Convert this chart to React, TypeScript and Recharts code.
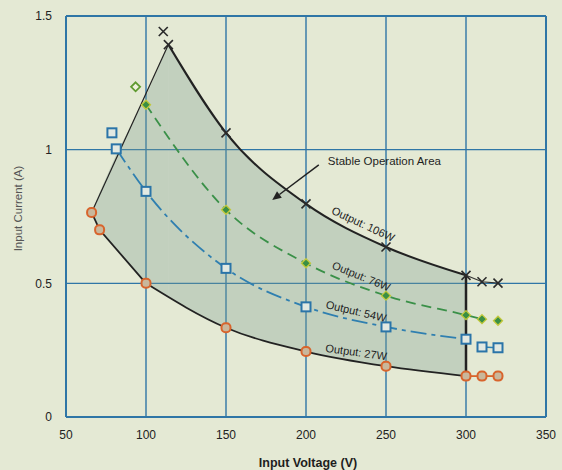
import React from 'react';
import {
  ComposedChart,
  Line,
  Area,
  Scatter,
  XAxis,
  YAxis,
  CartesianGrid,
  ReferenceLine,
  ReferenceDot,
} from 'recharts';

// ---------- data ----------
const xTicks = [50, 100, 150, 200, 250, 300, 350];
const yTicks = [0, 0.5, 1, 1.5];

// Output 106W (black, x markers)
const w106Line = [
  { x: 114, y: 1.393 },
  { x: 150, y: 1.063 },
  { x: 200, y: 0.797 },
  { x: 250, y: 0.636 },
  { x: 300, y: 0.53 },
];
const w106Tail = [
  { x: 300, y: 0.53 },
  { x: 310, y: 0.506 },
  { x: 320, y: 0.501 },
];
const w106Marks = [
  { x: 110.8, y: 1.442 },
  { x: 114, y: 1.393 },
  { x: 150, y: 1.063 },
  { x: 200, y: 0.797 },
  { x: 250, y: 0.636 },
  { x: 300, y: 0.53 },
  { x: 310, y: 0.506 },
  { x: 320, y: 0.501 },
];

// Output 76W (green, dashed, diamonds)
const w76Line = [
  { x: 100, y: 1.168 },
  { x: 150, y: 0.775 },
  { x: 200, y: 0.575 },
  { x: 250, y: 0.454 },
  { x: 300, y: 0.381 },
  { x: 310, y: 0.366 },
];
const w76Marks = [
  { x: 100, y: 1.168 },
  { x: 150, y: 0.775 },
  { x: 200, y: 0.575 },
  { x: 250, y: 0.454 },
  { x: 300, y: 0.381 },
  { x: 310, y: 0.366 },
  { x: 320, y: 0.36 },
];
const w76Loose = [{ x: 93.5, y: 1.235 }];

// Output 54W (blue, dash-dot, squares)
const w54Line = [
  { x: 81.4, y: 1.003 },
  { x: 100, y: 0.844 },
  { x: 150, y: 0.556 },
  { x: 200, y: 0.412 },
  { x: 250, y: 0.337 },
  { x: 300, y: 0.291 },
];
const w54Tail = [
  { x: 310, y: 0.262 },
  { x: 320, y: 0.259 },
];
const w54Marks = [
  { x: 78.7, y: 1.063 },
  { x: 81.4, y: 1.003 },
  { x: 100, y: 0.844 },
  { x: 150, y: 0.556 },
  { x: 200, y: 0.412 },
  { x: 250, y: 0.337 },
  { x: 300, y: 0.291 },
  { x: 310, y: 0.262 },
  { x: 320, y: 0.259 },
];

// Output 27W (black line, orange circles)
const w27Head = [
  { x: 66, y: 0.765 },
  { x: 71, y: 0.7 },
  { x: 100, y: 0.5 },
];
const w27Line = [
  { x: 100, y: 0.5 },
  { x: 150, y: 0.334 },
  { x: 200, y: 0.245 },
  { x: 250, y: 0.19 },
  { x: 300, y: 0.153 },
];
const w27Tail = [
  { x: 300, y: 0.153 },
  { x: 310, y: 0.153 },
  { x: 320, y: 0.153 },
];
const w27Marks = [
  { x: 66, y: 0.765 },
  { x: 71, y: 0.7 },
  { x: 100, y: 0.5 },
  { x: 150, y: 0.334 },
  { x: 200, y: 0.245 },
  { x: 250, y: 0.19 },
  { x: 300, y: 0.153 },
  { x: 310, y: 0.153 },
  { x: 320, y: 0.153 },
];

// Stable operation area boundaries
const leftEdge = [
  { x: 66, y: 0.765 },
  { x: 114, y: 1.393 },
];
const rightEdge = [
  { x: 300, y: 0.153 },
  { x: 300, y: 0.53 },
];
const areaLeft = [
  { x: 66, r: [0.765, 0.765] },
  { x: 71, r: [0.7, 0.84] },
  { x: 82, r: [0.624, 0.99] },
  { x: 100, r: [0.5, 1.2] },
  { x: 114, r: [0.448, 1.393] },
];
const areaRight = [
  { x: 114, r: [0.448, 1.393] },
  { x: 150, r: [0.334, 1.063] },
  { x: 200, r: [0.245, 0.797] },
  { x: 250, r: [0.19, 0.636] },
  { x: 300, r: [0.153, 0.53] },
];

// ---------- styles ----------
const FONT = '"Liberation Sans", Arial, sans-serif';
const GRID = '#2f76a6';

const XMark = (p: any) => {
  const { cx, cy } = p;
  const s = 4.5;
  return (
    <g stroke="#2a2a2a" strokeWidth={1.6}>
      <line x1={cx - s} y1={cy - s} x2={cx + s} y2={cy + s} />
      <line x1={cx - s} y1={cy + s} x2={cx + s} y2={cy - s} />
    </g>
  );
};
const DiamondMark = (p: any) => {
  const { cx, cy } = p;
  const s = 4.5;
  return (
    <polygon
      points={`${cx},${cy - s} ${cx + s},${cy} ${cx},${cy + s} ${cx - s},${cy}`}
      fill="#3a8f45"
      stroke="#c3c93a"
      strokeWidth={1.3}
    />
  );
};
const DiamondOpen = (p: any) => {
  const { cx, cy } = p;
  const s = 4.5;
  return (
    <polygon
      points={`${cx},${cy - s} ${cx + s},${cy} ${cx},${cy + s} ${cx - s},${cy}`}
      fill="#eef0dc"
      stroke="#5f9a30"
      strokeWidth={1.8}
    />
  );
};
const SquareMark = (p: any) => {
  const { cx, cy } = p;
  const s = 4.5;
  return (
    <rect
      x={cx - s}
      y={cy - s}
      width={2 * s}
      height={2 * s}
      fill="#e2e9e2"
      stroke="#2a74a8"
      strokeWidth={2}
    />
  );
};
const CircleMark = (p: any) => {
  const { cx, cy } = p;
  return (
    <rect
      x={cx - 4.5}
      y={cy - 4.5}
      width={9}
      height={9}
      rx={4}
      fill="#c9b79b"
      stroke="#d8642c"
      strokeWidth={2}
    />
  );
};

const rotLabel = (text: string, angle: number, size = 11) => (props: any) => {
  const vb = props.viewBox || {};
  const cx = (vb.x ?? 0) + (vb.width ?? 0) / 2;
  const cy = (vb.y ?? 0) + (vb.height ?? 0) / 2;
  return (
    <text
      x={cx}
      y={cy}
      transform={`rotate(${angle} ${cx} ${cy})`}
      textAnchor="middle"
      dominantBaseline="central"
      fontSize={size}
      fontFamily={FONT}
      fill="#1e1e1e"
    >
      {text}
    </text>
  );
};

const ArrowShape = (p: any) => {
  const { x1, y1, x2, y2 } = p;
  const ang = Math.atan2(y2 - y1, x2 - x1);
  const L = 9;
  const W = 4;
  const bx = x2 - L * Math.cos(ang);
  const by = y2 - L * Math.sin(ang);
  const px = -Math.sin(ang) * W;
  const py = Math.cos(ang) * W;
  return (
    <g>
      <line x1={x1} y1={y1} x2={bx} y2={by} stroke="#222" strokeWidth={1.5} />
      <polygon points={`${x2},${y2} ${bx + px},${by + py} ${bx - px},${by - py}`} fill="#222" />
    </g>
  );
};

const XLabel = (props: any) => {
  const vb = props.viewBox || {};
  const cx = (vb.x ?? 0) + (vb.width ?? 0) / 2;
  return (
    <text x={cx + 2} y={467} textAnchor="middle" fontSize={12.5} fontWeight="bold" fontFamily={FONT} fill="#1e1e1e">
      Input Voltage (V)
    </text>
  );
};
const YLabel = (props: any) => {
  const vb = props.viewBox || {};
  const cy = (vb.y ?? 0) + (vb.height ?? 0) / 2 - 8;
  const cx = 18;
  return (
    <text
      x={cx}
      y={cy}
      transform={`rotate(-90 ${cx} ${cy})`}
      textAnchor="middle"
      dominantBaseline="central"
      fontSize={11.5}
      fontFamily={FONT}
      fill="#555"
    >
      Input Current (A)
    </text>
  );
};

export default function App() {
  return (
    <div
      style={{
        position: 'absolute',
        left: 0,
        top: 0,
        width: 562,
        height: 470,
        background: '#e4e9d4',
      }}
    >
      <ComposedChart width={562} height={470} margin={{ top: 16, right: 16, bottom: 0, left: 0 }}>
        <CartesianGrid stroke={GRID} strokeWidth={1.4} />
        <XAxis
          dataKey="x"
          type="number"
          domain={[50, 350]}
          ticks={xTicks}
          allowDataOverflow
          height={53}
          tickSize={0}
          tickMargin={13}
          axisLine={{ stroke: GRID, strokeWidth: 2 }}
          tick={{ fontSize: 12, fontFamily: FONT, fill: '#222' }}
          label={{ content: XLabel }}
        />
        <YAxis
          type="number"
          domain={[0, 1.5]}
          ticks={yTicks}
          allowDataOverflow
          width={66}
          tickSize={0}
          tickMargin={14}
          axisLine={{ stroke: GRID, strokeWidth: 2 }}
          tick={{ fontSize: 12, fontFamily: FONT, fill: '#222' }}
          label={{ content: YLabel }}
        />
        <ReferenceLine y={1.5} stroke={GRID} strokeWidth={2} />
        <ReferenceLine x={350} stroke={GRID} strokeWidth={2} />

        <Area data={areaLeft} dataKey="r" type="linear" stroke="none" fill="#7c9d92" fillOpacity={0.33} isAnimationActive={false} />
        <Area data={areaRight} dataKey="r" type="monotone" stroke="none" fill="#7c9d92" fillOpacity={0.33} isAnimationActive={false} />

        <Line data={leftEdge} dataKey="y" type="linear" stroke="#222" strokeWidth={1.2} dot={false} isAnimationActive={false} />
        <Line data={rightEdge} dataKey="y" type="linear" stroke="#222" strokeWidth={2.5} dot={false} isAnimationActive={false} />

        <Line data={w106Line} dataKey="y" type="monotone" stroke="#222" strokeWidth={2} dot={false} isAnimationActive={false} />
        <Line data={w106Tail} dataKey="y" type="linear" stroke="#333" strokeWidth={1.2} dot={false} isAnimationActive={false} />

        <Line data={w76Line} dataKey="y" type="monotone" stroke="#3a9048" strokeWidth={1.8} strokeDasharray="10 6" dot={false} isAnimationActive={false} />

        <Line data={w54Line} dataKey="y" type="monotone" stroke="#2f7fb0" strokeWidth={1.8} strokeDasharray="16 5 4 5" dot={false} isAnimationActive={false} />
        <Line data={w54Tail} dataKey="y" type="linear" stroke="#2f7fb0" strokeWidth={1.5} dot={false} isAnimationActive={false} />

        <Line data={w27Head} dataKey="y" type="linear" stroke="#222" strokeWidth={1.8} dot={false} isAnimationActive={false} />
        <Line data={w27Line} dataKey="y" type="monotone" stroke="#222" strokeWidth={1.8} dot={false} isAnimationActive={false} />
        <Line data={w27Tail} dataKey="y" type="linear" stroke="#d8642c" strokeWidth={1.8} dot={false} isAnimationActive={false} />

        <Scatter data={w27Marks} dataKey="y" shape={CircleMark} isAnimationActive={false} />
        <Scatter data={w54Marks} dataKey="y" shape={SquareMark} isAnimationActive={false} />
        <Scatter data={w76Marks} dataKey="y" shape={DiamondMark} isAnimationActive={false} />
        <Scatter data={w76Loose} dataKey="y" shape={DiamondOpen} isAnimationActive={false} />
        <Scatter data={w106Marks} dataKey="y" shape={XMark} isAnimationActive={false} />

        <ReferenceLine
          segment={[
            { x: 208, y: 0.943 },
            { x: 178.9, y: 0.812 },
          ]}
          shape={ArrowShape}
        />
        <ReferenceDot x={249} y={0.958} r={1} fill="none" stroke="none" label={{ content: rotLabel('Stable Operation Area', 0, 11.5) }} />
        <ReferenceDot x={235.8} y={0.722} r={1} fill="none" stroke="none" label={{ content: rotLabel('Output: 106W', 25) }} />
        <ReferenceDot x={234.6} y={0.527} r={1} fill="none" stroke="none" label={{ content: rotLabel('Output: 76W', 22) }} />
        <ReferenceDot x={231.4} y={0.396} r={1} fill="none" stroke="none" label={{ content: rotLabel('Output: 54W', 13) }} />
        <ReferenceDot x={231.4} y={0.243} r={1} fill="none" stroke="none" label={{ content: rotLabel('Output: 27W', 8) }} />
      </ComposedChart>
    </div>
  );
}
